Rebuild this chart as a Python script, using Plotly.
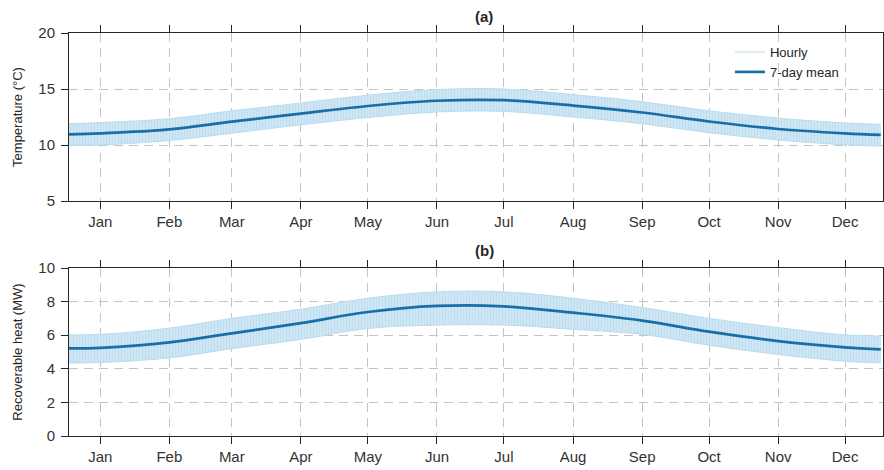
import plotly.graph_objects as go
from plotly.subplots import make_subplots

# ---- data ----
dates = ["2021-01-01", "2021-01-15", "2021-02-15", "2021-03-15", "2021-04-15",
         "2021-05-15", "2021-06-15", "2021-07-15", "2021-08-15", "2021-09-15",
         "2021-10-15", "2021-11-15", "2021-12-15", "2021-12-31"]

temp_mean = [10.95, 11.04, 11.40, 12.08, 12.80, 13.48, 13.95, 14.00, 13.52, 12.90, 12.10, 11.43, 11.04, 10.90]
temp_upper = [11.90, 12.00, 12.35, 13.05, 13.75, 14.45, 14.95, 15.00, 14.50, 13.87, 13.05, 12.40, 11.97, 11.85]
temp_lower = [9.95, 10.00, 10.40, 11.05, 11.80, 12.45, 12.95, 13.00, 12.50, 11.90, 11.10, 10.45, 10.02, 9.90]

heat_mean = [5.22, 5.25, 5.57, 6.11, 6.72, 7.38, 7.74, 7.72, 7.34, 6.87, 6.21, 5.65, 5.28, 5.16]
heat_upper = [6.02, 6.05, 6.42, 7.00, 7.55, 8.20, 8.58, 8.58, 8.20, 7.65, 7.00, 6.45, 6.02, 5.95]
heat_lower = [4.35, 4.38, 4.65, 5.20, 5.75, 6.40, 6.60, 6.60, 6.35, 6.05, 5.40, 4.85, 4.45, 4.35]

month_ticks = ["2021-01-15", "2021-02-15", "2021-03-15", "2021-04-15", "2021-05-15", "2021-06-15",
               "2021-07-15", "2021-08-15", "2021-09-15", "2021-10-15", "2021-11-15", "2021-12-15"]
month_labels = ["Jan", "Feb", "Mar", "Apr", "May", "Jun", "Jul", "Aug", "Sep", "Oct", "Nov", "Dec"]

# ---- styles ----
MEAN_COLOR = "#1a6ea6"
BAND_BG = "#cfe6f4"
BAND_FG = "#add3eb"
AXIS = "#262626"
TXT = "#333333"
FONT = "Liberation Sans, Arial, sans-serif"

fig = make_subplots(rows=2, cols=1, vertical_spacing=(268 - 201) / 403)


def add_panel(row, upper, lower, mean, legend):
    fig.add_trace(go.Scatter(
        x=dates, y=upper, mode="lines", line=dict(color="#b9dcef", width=1, shape="spline"),
        name="Hourly", legendgroup="h", showlegend=legend, hoverinfo="skip"), row=row, col=1)
    fig.add_trace(go.Scatter(
        x=dates, y=lower, mode="lines", line=dict(color="#b9dcef", width=1, shape="spline"),
        fill="tonexty", fillcolor=BAND_BG,
        fillpattern=dict(shape="|", fgcolor=BAND_FG, bgcolor=BAND_BG, size=3, solidity=0.3),
        legendgroup="h", showlegend=False, hoverinfo="skip"), row=row, col=1)
    fig.add_trace(go.Scatter(
        x=dates, y=mean, mode="lines", line=dict(color=MEAN_COLOR, width=2.7, shape="spline"),
        name="7-day mean", legendgroup="m", showlegend=legend), row=row, col=1)


add_panel(1, temp_upper, temp_lower, temp_mean, True)
add_panel(2, heat_upper, heat_lower, heat_mean, False)

xax = dict(
    type="date", range=["2021-01-01", "2022-01-01"],
    tickvals=month_ticks, ticktext=month_labels,
    showline=True, linecolor=AXIS, linewidth=1, mirror="ticks",
    ticks="outside", ticklen=7, tickcolor=AXIS,
    showgrid=True, gridcolor="#c4c4c4", griddash="9px,6px", gridwidth=1,
    tickfont=dict(family=FONT, size=15, color=TXT), zeroline=False, automargin=False,
)
fig.update_xaxes(**xax)

yax = dict(
    showline=True, linecolor=AXIS, linewidth=1, mirror="ticks",
    ticks="outside", ticklen=7, tickcolor=AXIS, ticklabelstandoff=3,
    showgrid=True, gridcolor="#c4c4c4", griddash="9px,6px", gridwidth=1,
    tickfont=dict(family=FONT, size=15, color=TXT), zeroline=False, automargin=False,
)
fig.update_yaxes(**yax)
fig.update_yaxes(range=[5, 20], tickvals=[5, 10, 15, 20],
                 title=dict(text="Temperature (°C)", font=dict(family=FONT, size=13, color=AXIS), standoff=12),
                 row=1, col=1)
fig.update_yaxes(range=[0, 10], tickvals=[0, 2, 4, 6, 8, 10],
                 title=dict(text="Recoverable heat (MW)", font=dict(family=FONT, size=13, color=AXIS), standoff=12),
                 row=2, col=1)

fig.add_annotation(text="<b>(a)</b>", xref="paper", yref="paper", x=0.51, y=1.0, yshift=27,
                   showarrow=False, font=dict(family=FONT, size=15, color=AXIS))
fig.add_annotation(text="<b>(b)</b>", xref="paper", yref="paper", x=0.51, y=168 / 403, yshift=18,
                   showarrow=False, font=dict(family=FONT, size=15, color=AXIS))

fig.update_layout(
    width=884, height=470,
    margin=dict(l=69, r=1, t=33, b=34, autoexpand=False),
    plot_bgcolor="white", paper_bgcolor="white",
    font=dict(family=FONT, color=AXIS),
    legend=dict(x=0.812, y=0.99, xanchor="left", yanchor="top",
                bgcolor="rgba(255,255,255,0)", borderwidth=0,
                font=dict(family=FONT, size=13, color=AXIS), tracegroupgap=0),
    showlegend=True,
)

fig.write_html("out.html", config={"displayModeBar": False},
               post_script="document.body.style.margin='0px';")
